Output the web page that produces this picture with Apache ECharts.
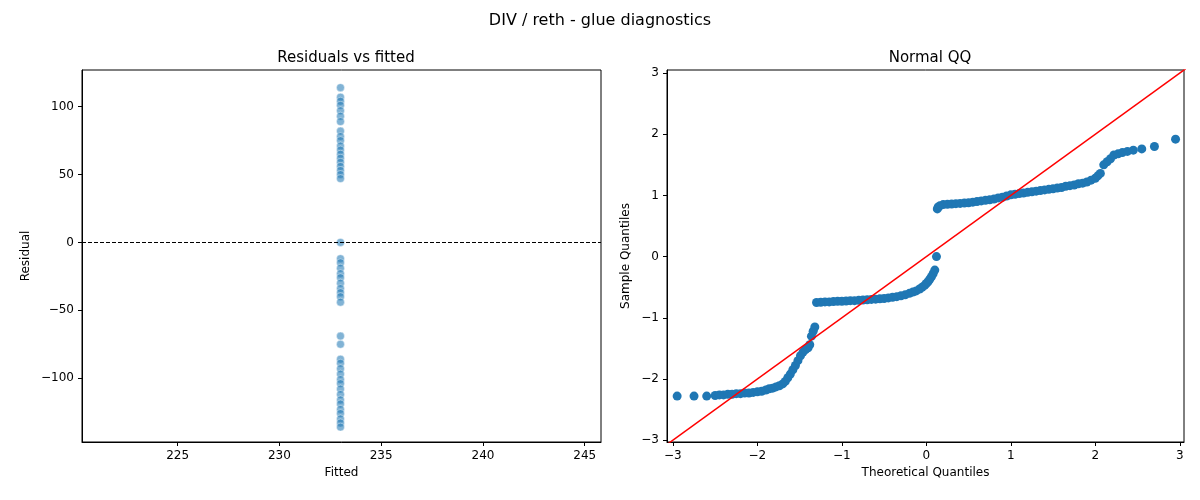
<!DOCTYPE html><html><head><meta charset="utf-8"><script src="https://cdn.jsdelivr.net/npm/echarts@6/dist/echarts.min.js"></script></head><body style="margin:0"><div id="c" style="width:1200px;height:500px"></div><script>
const fittedValue = 233.0;
const residuals = [114,107,104,101,97,93,89,82,78,75,71,68,65,62,59,56,53,50,47,0,-12,-15,-19,-23,-26,-30,-34,-37,-40,-44,-69,-75,-86,-89,-93,-97,-101,-104,-108,-112,-116,-119,-123,-126,-130,-133,-136];
const qqX = [-2.95,-2.75,-2.6,-2.5,-2.45,-2.4,-2.35,-2.3,-2.25,-2.2,-2.15,-2.1,-2.05,-2.0,-1.95,-1.9,-1.86,-1.82,-1.78,-1.74,-1.7,-1.67,-1.64,-1.61,-1.58,-1.55,-1.52,-1.49,-1.46,-1.43,-1.4,-1.38,-1.36,-1.34,-1.32,
-1.3,-1.25,-1.2,-1.15,-1.1,-1.05,-1.0,-0.95,-0.9,-0.85,-0.8,-0.75,-0.7,-0.65,-0.6,-0.55,-0.5,-0.45,-0.4,-0.35,-0.3,-0.25,-0.2,
-0.16,-0.12,-0.08,-0.05,-0.02,0.0,0.02,0.04,0.06,0.08,0.1,0.12,
0.13,0.14,0.16,0.2,0.25,0.3,0.35,0.4,0.45,0.5,0.55,0.6,0.65,0.7,0.75,0.8,0.85,0.9,0.95,1.0,1.05,1.1,1.15,1.2,1.25,1.3,1.35,1.4,1.45,1.5,1.55,1.6,1.65,1.7,1.75,1.8,
1.85,1.9,1.95,2.0,2.03,2.06,2.1,2.14,2.18,2.22,2.27,2.32,2.38,2.45,2.55,2.7,2.95];
const qqY = [-2.28,-2.28,-2.28,-2.27,-2.26,-2.26,-2.25,-2.25,-2.24,-2.24,-2.23,-2.23,-2.22,-2.21,-2.2,-2.18,-2.16,-2.15,-2.13,-2.11,-2.08,-2.04,-1.98,-1.92,-1.85,-1.78,-1.7,-1.62,-1.56,-1.52,-1.49,-1.44,-1.3,-1.22,-1.15,
-0.75,-0.745,-0.74,-0.74,-0.735,-0.73,-0.73,-0.725,-0.72,-0.72,-0.715,-0.71,-0.705,-0.7,-0.695,-0.69,-0.685,-0.675,-0.665,-0.655,-0.64,-0.625,-0.6,
-0.58,-0.56,-0.53,-0.5,-0.47,-0.44,-0.41,-0.37,-0.33,-0.28,-0.22,0.0,
0.78,0.81,0.83,0.85,0.855,0.86,0.865,0.87,0.875,0.88,0.89,0.9,0.91,0.92,0.93,0.94,0.96,0.97,0.99,1.01,1.02,1.03,1.04,1.05,1.06,1.07,1.08,1.09,1.1,1.11,1.12,1.13,1.15,1.16,1.17,1.19,
1.2,1.22,1.25,1.28,1.32,1.36,1.5,1.55,1.6,1.66,1.68,1.7,1.72,1.74,1.76,1.8,1.92];
const resData = residuals.map(r=>[fittedValue,r]);
const qqData = qqX.map((x,i)=>[x,qqY[i]]);
const mm = v=>String(v).replace('-','\u2212');
const ax = {axisLine:{show:true,onZero:false,lineStyle:{color:'#000'}},axisTick:{show:true,length:4,lineStyle:{color:'#000'}},splitLine:{show:false},axisLabel:{color:'#000',fontSize:12,fontFamily:'DejaVu Sans'},nameLocation:'middle',nameTextStyle:{color:'#000',fontSize:12,fontFamily:'DejaVu Sans'}};
function axis(extra, ticks){
  return Object.assign({},ax,extra,{axisLabel:Object.assign({},ax.axisLabel,{customValues:ticks,formatter:mm}),axisTick:Object.assign({},ax.axisTick,{customValues:ticks})});
}
const xTicksL=[225,230,235,240,245], yTicksL=[-100,-50,0,50,100], qTicks=[-3,-2,-1,0,1,2,3];
const chart = echarts.init(document.getElementById('c'));
chart.setOption({
 animation:false,
 title:[{text:'DIV / reth - glue diagnostics',left:'center',top:8,textStyle:{fontSize:16,fontWeight:'normal',color:'#000',fontFamily:'DejaVu Sans'}},
  {text:'Residuals vs fitted',left:341,textAlign:'center',top:46,textStyle:{fontSize:15,fontWeight:'normal',color:'#000',fontFamily:'DejaVu Sans'}},
  {text:'Normal QQ',left:925,textAlign:'center',top:46,textStyle:{fontSize:15,fontWeight:'normal',color:'#000',fontFamily:'DejaVu Sans'}}],
 grid:[{left:82,right:599,top:70,bottom:58,show:true,borderColor:'#000',borderWidth:1},{left:667,right:16,top:70,bottom:58,show:true,borderColor:'#000',borderWidth:1}],
 xAxis:[axis({gridIndex:0,min:220.3,max:245.8,name:'Fitted',nameGap:22},xTicksL),
  axis({gridIndex:1,min:-3.07,max:3.05,name:'Theoretical Quantiles',nameGap:22},qTicks)],
 yAxis:[axis({gridIndex:0,min:-147,max:127,name:'Residual',nameGap:50},yTicksL),
  axis({gridIndex:1,min:-3.03,max:3.05,name:'Sample Quantiles',nameGap:35},qTicks)],
 series:[
  {type:'scatter',xAxisIndex:0,yAxisIndex:0,data:resData,symbolSize:8,itemStyle:{color:'rgba(31,119,180,0.7)',borderColor:'#fff',borderWidth:0.5},
   markLine:{silent:true,symbol:'none',label:{show:false},lineStyle:{color:'#000',type:[4,2],width:1},data:[{yAxis:0}]}},
  {type:'line',xAxisIndex:1,yAxisIndex:1,data:[[-3.1,-3.1],[3.1,3.1]],showSymbol:false,lineStyle:{color:'red',width:1.5},clip:true,z:3},
  {type:'scatter',xAxisIndex:1,yAxisIndex:1,data:qqData,symbolSize:9,itemStyle:{color:'#1f77b4',opacity:1},z:2}
 ]
});
</script></body></html>
